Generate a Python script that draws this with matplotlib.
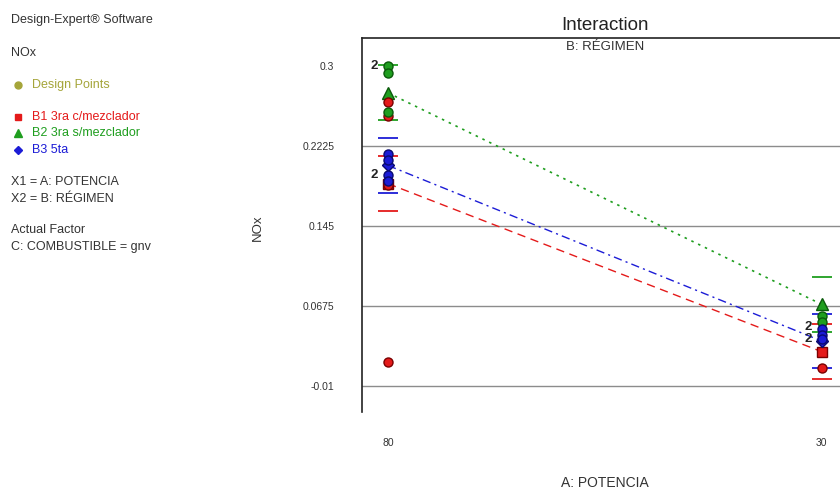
import matplotlib
matplotlib.use("Agg")
import matplotlib.pyplot as plt

plt.rcParams['font.family'] = ['Liberation Sans', 'DejaVu Sans']

# factor levels (as printed on the axis)
x_levels = [80, 30]
x_labels = ["80", "30"]

# predicted means per regimen
red_mean = [0.186, 0.0232]
green_mean = [0.274, 0.069]
blue_mean = [0.2036, 0.0335]
lsd_half = 0.0265

# design points
red_pts_x = [80, 80, 80, 80, 30]
red_pts_y = [0.2654, 0.2516, 0.185, 0.0133, 0.0072]
green_pts_x = [80, 80, 80, 30, 30]
green_pts_y = [0.300, 0.293, 0.2557, 0.0578, 0.0523]
blue_pts_x = [80, 80, 80, 80, 30, 30, 30]
blue_pts_y = [0.2148, 0.209, 0.1944, 0.189, 0.0449, 0.0394, 0.0353]

# replicate counts shown next to points
count_x = [80, 80, 30, 30]
count_y = [0.300, 0.1944, 0.0475, 0.0355]
count_txt = ["2", "2", "2", "2"]

y_ticks = [0.3, 0.2225, 0.145, 0.0675, -0.01]
y_tick_labels = ["0.3", "0.2225", "0.145", "0.0675", "-0.01"]

RED = "#e41a1a"
GREEN = "#1f9e1f"
BLUE = "#1c1cd6"
OLIVE = "#a5a53a"
TXT = "#333333"

fig = plt.figure(figsize=(8.4, 4.91), dpi=100)
ax = fig.add_axes([362 / 840, 79 / 491, 1 - 362 / 840, 374 / 491])

ax.set_xlim(83.0, 27.9)
ax.set_ylim(-0.0352, 0.3271)

# gridlines (no line at the top tick)
for t in y_ticks[1:]:
    ax.axhline(t, color="#8c8c8c", lw=1.0, zorder=1)

# interaction lines
ax.plot(x_levels, red_mean, color=RED, ls=(0, (6, 4)), lw=1.0, zorder=2)
ax.plot(x_levels, blue_mean, color=BLUE, ls=(0, (6, 3, 1.5, 3)), lw=1.0, zorder=2)
ax.plot(x_levels, green_mean, color=GREEN, ls=(0, (1.5, 3)), lw=1.2, zorder=2)

# LSD bars
w = 1.15
for means, c in [(red_mean, RED), (green_mean, GREEN), (blue_mean, BLUE)]:
    for xv, m in zip(x_levels, means):
        ax.hlines([m - lsd_half, m + lsd_half], xv - w, xv + w, color=c, lw=1.3, zorder=3)

# means markers
ax.plot(x_levels, red_mean, "s", color=RED, mec="#7a0000", ms=7, zorder=4)
ax.plot(x_levels, green_mean, "^", color=GREEN, mec="#0a5a0a", ms=8, zorder=4)
ax.plot(x_levels, blue_mean, "D", color=BLUE, mec="#0a0a70", ms=6, zorder=4)

# design points
ax.plot(red_pts_x, red_pts_y, "o", color=RED, mec="#7a0000", ms=6.5, zorder=5)
ax.plot(green_pts_x, green_pts_y, "o", color=GREEN, mec="#0a5a0a", ms=6.5, zorder=5)
ax.plot(blue_pts_x, blue_pts_y, "o", color=BLUE, mec="#0a0a70", ms=6.5, zorder=5)

for xv, yv, t in zip(count_x, count_y, count_txt):
    ax.annotate(t, (xv, yv), xytext=(-10, 0), textcoords="offset points",
                ha="center", va="center", fontsize=9.5, fontweight="bold",
                color="#222222", zorder=6)

ax.set_xticks(x_levels)
ax.set_xticklabels(x_labels)
ax.tick_params(axis="x", length=0, pad=19, labelsize=7.5, labelcolor=TXT)

ax.set_yticks(y_ticks)
ax.set_yticklabels(y_tick_labels)
ax.set_yticks(y_ticks[1:], minor=True)
ax.tick_params(axis="y", which="major", length=0, pad=20, labelsize=7.5, labelcolor=TXT)
ax.tick_params(axis="y", which="minor", length=10, width=1.2, color="#333333")

for s in ["right", "bottom"]:
    ax.spines[s].set_visible(False)
ax.spines["left"].set_linewidth(1.2)
ax.spines["top"].set_linewidth(1.2)
ax.spines["left"].set_color("#222222")
ax.spines["top"].set_color("#222222")

fig.text(605 / 840, 1 - 25 / 491, "Interaction", ha="center", va="center", fontsize=13.5, color="#222222")
fig.text(605 / 840, 1 - 47 / 491, "B: RÉGIMEN", ha="center", va="center", fontsize=9.5, color=TXT)
fig.text(605 / 840, 1 - 483 / 491, "A: POTENCIA", ha="center", va="center", fontsize=10, color=TXT)
fig.text(258 / 840, 1 - 228 / 491, "NOx", ha="center", va="center", rotation=90, fontsize=9.5, color=TXT)

# left side info panel
def side(y, s, color=TXT, x=11):
    fig.text(x / 840, 1 - y / 491, s, ha="left", va="center", fontsize=9, color=color)

side(20, "Design-Expert® Software")
side(53, "NOx")
side(85, "Design Points", OLIVE, x=32)
side(117, "B1 3ra c/mezclador", RED, x=32)
side(133, "B2 3ra s/mezclador", GREEN, x=32)
side(150, "B3 5ta", BLUE, x=32)
side(182, "X1 = A: POTENCIA")
side(199, "X2 = B: RÉGIMEN")
side(230, "Actual Factor")
side(247, "C: COMBUSTIBLE = gnv")

for yy, mk, c, ms in [(85, "o", OLIVE, 5), (117, "s", RED, 5), (133, "^", GREEN, 5.5), (150, "D", BLUE, 4.5)]:
    fig.lines.append(plt.Line2D([18 / 840], [1 - yy / 491], marker=mk, color=c, ms=ms,
                                transform=fig.transFigure, figure=fig))

fig.savefig("out.png", dpi=100)
